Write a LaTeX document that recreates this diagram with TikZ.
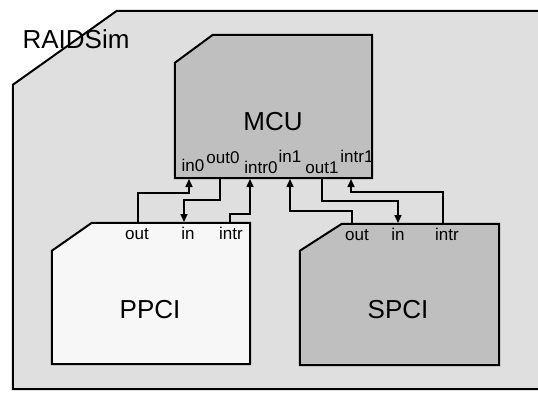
\documentclass[tikz,border=0pt]{standalone}
\usepackage{fontspec}
\setmainfont{Liberation Sans}
\usetikzlibrary{arrows.meta}

\begin{document}
\begin{tikzpicture}[x=1pt,y=-1pt]
  \tikzset{box/.style={rectangle,inner sep=0pt},
    chip/.style={draw,line width=2pt,fill=#1,line join=miter},
    link/.style={line width=1.6pt,-{Triangle[length=8pt,width=7pt]}},
    port/.style={anchor=base,inner sep=0pt,font=\fontsize{17}{17}\selectfont},
    title/.style={font=\fontsize{26}{26}\selectfont}}

  \useasboundingbox (0,0) rectangle (538,394);
  \clip (0,0) rectangle (538,394);

  \node [box, minimum width=537pt, minimum height=378pt] (sim) at (281.5,200) {};
  \node [box, minimum width=197pt, minimum height=143pt] (mcu) at (273.5,106.5) {};
  \node [box, minimum width=198pt, minimum height=141pt] (ppci) at (151,293.5) {};
  \node [box, minimum width=199pt, minimum height=141pt] (spci) at (399.5,294.5) {};

  % outlines with the cut corner
  \draw [chip=gray!25] (sim.south west) -- ([yshift=-74pt]sim.north west) -- ([xshift=104pt]sim.north west)
    -- (sim.north east) -- (sim.south east) -- cycle;
  \draw [chip=gray!50] (mcu.south west) -- ([yshift=-28pt]mcu.north west) -- ([xshift=38pt]mcu.north west)
    -- (mcu.north east) -- (mcu.south east) -- cycle;
  \draw [chip=gray!6] (ppci.south west) -- ([yshift=-28pt]ppci.north west) -- ([xshift=40pt]ppci.north west)
    -- (ppci.north east) -- (ppci.south east) -- cycle;
  \draw [chip=gray!50] (spci.south west) -- ([yshift=-27pt]spci.north west) -- ([xshift=42pt]spci.north west)
    -- (spci.north east) -- (spci.south east) -- cycle;

  \node [title] at (76,39) {RAIDSim};
  \node [title] at (273,122) {MCU};
  \node [title] at (150,310) {PPCI};
  \node [title] at (398,310) {SPCI};

  % ports of the MCU
  \node [port] at (193,171) {in0};
  \node [port] at (223,163) {out0};
  \node [port] at (261,173) {intr0};
  \node [port] at (290,162) {in1};
  \node [port] at (322,173) {out1};
  \node [port] at (357,162) {intr1};
  % ports of the PCI cards
  \node [port] at (137,239) {out};
  \node [port] at (188,239) {in};
  \node [port] at (231,239) {intr};
  \node [port] at (357,240) {out};
  \node [port] at (398,240) {in};
  \node [port] at (447,240) {intr};

  \coordinate (mcu-in0) at (189,179);
  \coordinate (mcu-out0) at (220,178);
  \coordinate (mcu-intr0) at (250,179);
  \coordinate (mcu-in1) at (290,179);
  \coordinate (mcu-out1) at (322,178);
  \coordinate (mcu-intr1) at (351,179);
  \coordinate (ppci-out) at (138,223);
  \coordinate (ppci-in) at (184,222);
  \coordinate (ppci-intr) at (230,223);
  \coordinate (spci-out) at (352,224);
  \coordinate (spci-in) at (398,223);
  \coordinate (spci-intr) at (443,224);

  \draw [link] (ppci-out) -- ++(0,-30) -| (mcu-in0);
  \draw [link] (mcu-out0) -- ++(0,22) -| (ppci-in);
  \draw [link] (ppci-intr) -- ++(0,-9) -| (mcu-intr0);
  \draw [link] (spci-out) -- ++(0,-13) -| (mcu-in1);
  \draw [link] (mcu-out1) -- ++(0,23) -| (spci-in);
  \draw [link] (spci-intr) -- ++(0,-32) -| (mcu-intr1);
\end{tikzpicture}
\end{document}
